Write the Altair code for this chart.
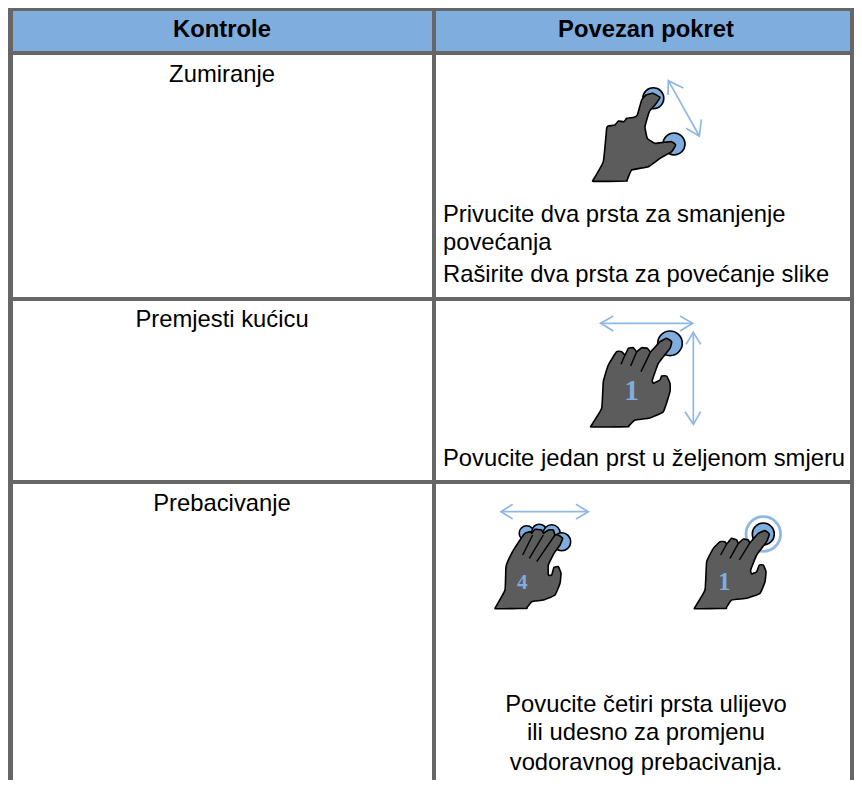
import altair as alt
import pandas as pd

BORDER = "#666666"
HEADER = "#7FADDE"
HAND = "#5C5C5C"
BLUE = "#7FADDE"
ARROW = "#8FB8E3"

# table frame: x, x2, y, y2, colour
frame = [
    (8, 854, 8, 780, BORDER),
    (13, 432, 11, 51, HEADER), (436, 850, 11, 51, HEADER),
    (13, 432, 55, 297, "#FFFFFF"), (436, 850, 55, 297, "#FFFFFF"),
    (13, 432, 301, 480, "#FFFFFF"), (436, 850, 301, 480, "#FFFFFF"),
    (13, 432, 484, 780, "#FFFFFF"), (436, 850, 484, 780, "#FFFFFF"),
]

# text: label, x, y, align, bold
FS = 23.8
texts = [
    ("Kontrole", 222, 36.7, "center", True),
    ("Povezan pokret", 646, 36.7, "center", True),
    ("Zumiranje", 222, 81.7, "center", False),
    ("Privucite dva prsta za smanjenje", 443, 221.7, "left", False),
    ("povećanja", 443, 250, "left", False),
    ("Raširite dva prsta za povećanje slike", 443, 282, "left", False),
    ("Premjesti kućicu", 222, 326.7, "center", False),
    ("Povucite jedan prst u željenom smjeru", 443, 466, "left", False),
    ("Prebacivanje", 222, 511, "center", False),
    ("Povucite četiri prsta ulijevo", 646, 711.7, "center", False),
    ("ili udesno za promjenu", 646, 740, "center", False),
    ("vodoravnog prebacivanja.", 646, 770, "center", False),
]

hand_a = ((560, 60), [(98,363),(99,361),(130,305),(140,205),(145,198),(165,195),(175,183),(192,185),(200,175),(222,172),(232,165),(245,120),(258,105),(278,100),(300,112),(285,135),(268,155),(255,200),(262,235),(285,250),(310,247),(335,245),(347,255),(335,275),(300,295),(265,320),(215,330),(201,361),(200,363),(150,364),(100,364)])
hand_b = ((560, 305), [(92,365),(93,363),(125,310),(130,230),(145,180),(170,140),(185,140),(195,150),(205,130),(220,128),(230,140),(245,128),(262,130),(272,140),(300,110),(320,100),(335,110),(330,130),(295,175),(277,225),(280,235),(300,225),(305,213),(320,213),(330,235),(330,260),(310,320),(265,340),(225,345),(206,363),(205,365),(150,366),(94,366)])
hand_c = ((480, 490), [(45,355),(46,353),(75,300),(78,230),(95,190),(120,150),(135,130),(150,125),(155,130),(165,118),(185,120),(190,130),(205,120),(220,120),(225,135),(235,135),(248,145),(240,165),(222,190),(205,225),(205,255),(215,255),(222,232),(235,230),(243,250),(240,280),(225,315),(190,330),(155,335),(141,353),(140,355),(95,356),(47,356)])
hand_d = ((480, 490), [(643,355),(644,353),(675,300),(680,215),(700,175),(720,155),(735,155),(740,162),(755,145),(770,150),(775,160),(790,147),(805,150),(810,158),(835,130),(855,122),(868,132),(860,155),(830,195),(812,240),(815,252),(830,245),(838,225),(850,225),(858,245),(855,275),(840,310),(800,325),(755,330),(739,353),(738,355),(690,356),(645,356)])
hands = [hand_a, hand_b, hand_c, hand_d]

finger_gaps = [
    ((560, 305), [(195,150),(183,178)]),
    ((560, 305), [(230,140),(212,183)]),
    ((560, 305), [(272,140),(243,200)]),
    ((480, 490), [(158,135),(128,195)]),
    ((480, 490), [(190,135),(148,205)]),
    ((480, 490), [(225,135),(170,215)]),
    ((480, 490), [(740,162),(722,195)]),
    ((480, 490), [(775,160),(750,205)]),
    ((480, 490), [(810,158),(778,210)]),
]

arrows = [
    ((560, 60), [(325,62),(418,228)]),
    ((560, 60), [(370,84),(325,62),(324,105)]),
    ((560, 60), [(378,205),(418,228),(424,178)]),
    ((560, 305), [(122,55),(398,55)]),
    ((560, 305), [(160,33),(122,55),(160,78)]),
    ((560, 305), [(360,33),(398,55),(360,78)]),
    ((560, 305), [(400,82),(400,358)]),
    ((560, 305), [(378,118),(400,82),(422,118)]),
    ((560, 305), [(375,320),(400,358),(422,320)]),
    ((480, 490), [(63,65),(325,65)]),
    ((480, 490), [(98,43),(63,65),(98,87)]),
    ((480, 490), [(288,43),(325,65),(288,87)]),
]

# touch circles: centre x, y, radius in image pixels
touches = [
    (653.3, 98.3, 10.5), (674, 144, 11),
    (670, 343.3, 12.3),
    (526.7, 533.3, 7.5), (539.3, 531.7, 7.5), (551.7, 533.3, 8.5), (561.7, 541.7, 9),
    (763.3, 534, 11),
]
rings = [(763.3, 534, 17.3)]
digits = [("1", 631.7, 400, 29.5), ("4", 522.3, 589, 21), ("1", 724.3, 590, 25)]

def to_image(origin, pts, name):
    ox, oy = origin
    return [{"x": ox + px / 3, "y": oy + py / 3, "part": name, "i": i} for i, (px, py) in enumerate(pts)]

X = alt.X("x:Q", scale=alt.Scale(domain=[8, 854], range=[0, 846]), axis=None)
Y = alt.Y("y:Q", scale=alt.Scale(domain=[8, 780], range=[0, 772]), axis=None)

frame_df = pd.DataFrame(frame, columns=["x", "x2", "y", "y2", "c"])
frame_layer = alt.Chart(frame_df).mark_rect().encode(X, x2="x2:Q", y=Y, y2="y2:Q", color=alt.Color("c:N", scale=None))

def poly_df(items, prefix):
    rows = []
    for k, (o, pts) in enumerate(items):
        rows += to_image(o, pts, f"{prefix}{k}")
    return pd.DataFrame(rows)

hand_layer = alt.Chart(poly_df(hands, "h")).mark_line(
    interpolate="cardinal-closed", tension=0.65, fill=HAND, stroke="#000000", strokeWidth=1.6
).encode(X, Y, detail="part:N", order="i:Q")
gap_layer = alt.Chart(poly_df(finger_gaps, "g")).mark_line(stroke="#000000", strokeWidth=1.4).encode(X, Y, detail="part:N", order="i:Q")
arrow_layer = alt.Chart(poly_df(arrows, "a")).mark_line(stroke=ARROW, strokeWidth=1.7).encode(X, Y, detail="part:N", order="i:Q")

tdf = pd.DataFrame(touches, columns=["x", "y", "r"])
tdf["s"] = (2 * tdf["r"]) ** 2
touch_layer = alt.Chart(tdf).mark_point(shape="circle", filled=True, fill=BLUE, stroke="#000000", strokeWidth=1.6, opacity=1).encode(X, Y, size=alt.Size("s:Q", scale=None))
rdf = pd.DataFrame(rings, columns=["x", "y", "r"])
rdf["s"] = (2 * rdf["r"]) ** 2
ring_layer = alt.Chart(rdf).mark_point(shape="circle", filled=False, stroke=ARROW, strokeWidth=2.8, opacity=1).encode(X, Y, size=alt.Size("s:Q", scale=None))

ddf = pd.DataFrame(digits, columns=["t", "x", "y", "fs"])
digit_layer = alt.Chart(ddf).mark_text(font="Liberation Serif", fontWeight="bold", color=BLUE, align="center", baseline="alphabetic").encode(X, Y, text="t:N", size=alt.Size("fs:Q", scale=None))

tx = pd.DataFrame(texts, columns=["t", "x", "y", "align", "bold"])
def text_layer(align, bold):
    sub = tx[(tx["align"] == align) & (tx["bold"] == bold)]
    return alt.Chart(sub).mark_text(
        font="Liberation Sans", fontSize=FS, fontWeight="bold" if bold else "normal",
        align=align, baseline="alphabetic", color="#000000"
    ).encode(X, Y, text="t:N")

chart = alt.layer(
    frame_layer, arrow_layer, ring_layer, touch_layer, hand_layer, gap_layer, digit_layer,
    text_layer("center", True), text_layer("center", False), text_layer("left", False),
).properties(width=846, height=772, padding=0, autosize=alt.AutoSizeParams(type="none")).configure_view(stroke=None)

chart.save("out.html", embed_options={"renderer": "svg", "actions": False})
